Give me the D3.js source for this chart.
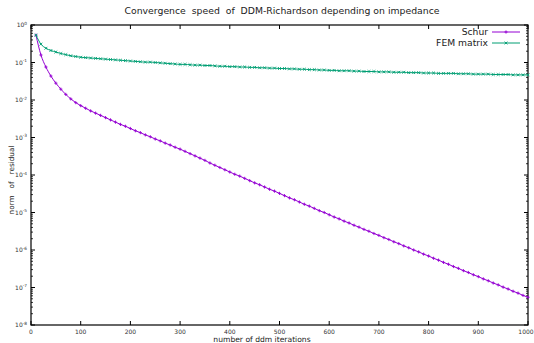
<!DOCTYPE html>
<html>
<head>
<meta charset="utf-8">
<script src="https://cdn.jsdelivr.net/npm/d3@7"></script>
<style>
  body { margin: 0; background: #fff; }
  svg { font-family: "DejaVu Sans", sans-serif; }
</style>
</head>
<body>
<div id="chart"></div>
<script>
// iterations 10, 20, ..., 1000 ; values are log10(residual)
const iterations = d3.range(10, 1001, 10);
const schurLog10 = [
  -0.27, -0.80, -1.12, -1.36, -1.55, -1.71, -1.85, -1.97, -2.07, -2.15,
  -2.22, -2.29, -2.35, -2.41, -2.47, -2.53, -2.59, -2.65, -2.70, -2.76,
  -2.82, -2.87, -2.93, -2.98, -3.04, -3.09, -3.15, -3.20, -3.26, -3.31,
  -3.37, -3.43, -3.49, -3.55, -3.61, -3.68, -3.74, -3.80, -3.86, -3.92,
  -3.98, -4.03, -4.09, -4.15, -4.21, -4.26, -4.32, -4.38, -4.43, -4.49,
  -4.55, -4.61, -4.66, -4.72, -4.78, -4.83, -4.89, -4.95, -5.00, -5.06,
  -5.12, -5.17, -5.23, -5.28, -5.34, -5.39, -5.45, -5.50, -5.56, -5.61,
  -5.67, -5.72, -5.78, -5.83, -5.89, -5.94, -6.00, -6.05, -6.11, -6.16,
  -6.22, -6.27, -6.33, -6.38, -6.44, -6.49, -6.55, -6.60, -6.66, -6.71,
  -6.77, -6.82, -6.88, -6.93, -6.99, -7.04, -7.10, -7.15, -7.21, -7.26
];
const femLog10 = [
  -0.27, -0.51, -0.62, -0.68, -0.72, -0.76, -0.79, -0.82, -0.84, -0.86,
  -0.87, -0.88, -0.89, -0.90, -0.91, -0.92, -0.93, -0.94, -0.95, -0.96,
  -0.97, -0.98, -0.99, -0.99, -1.00, -1.01, -1.02, -1.03, -1.04, -1.05,
  -1.05, -1.06, -1.07, -1.07, -1.08, -1.08, -1.09, -1.10, -1.10, -1.11,
  -1.11, -1.12, -1.12, -1.13, -1.13, -1.14, -1.14, -1.15, -1.15, -1.16,
  -1.16, -1.17, -1.17, -1.18, -1.18, -1.19, -1.19, -1.20, -1.20, -1.21,
  -1.21, -1.22, -1.22, -1.22, -1.23, -1.23, -1.24, -1.24, -1.24, -1.25,
  -1.25, -1.25, -1.26, -1.26, -1.26, -1.27, -1.27, -1.27, -1.28, -1.28,
  -1.28, -1.29, -1.29, -1.29, -1.29, -1.30, -1.30, -1.30, -1.31, -1.31,
  -1.31, -1.31, -1.32, -1.32, -1.32, -1.32, -1.33, -1.33, -1.33, -1.33
];
const xTicks = [0, 100, 200, 300, 400, 500, 600, 700, 800, 900, 1000];
const yExponents = [0, -1, -2, -3, -4, -5, -6, -7, -8];
const seriesNames = ['Schur', 'FEM matrix'];
const seriesColors = ['#9400d3', '#009e73'];

const width = 534, height = 343;
const margin = { top: 25, right: 6, bottom: 18, left: 31 };
const innerW = width - margin.left - margin.right;
const innerH = height - margin.top - margin.bottom;

const svg = d3.select('#chart').append('svg')
  .attr('width', width).attr('height', height);

const g = svg.append('g').attr('transform', `translate(${margin.left},${margin.top})`);

const x = d3.scaleLinear().domain([0, 1000]).range([0, innerW]);
const y = d3.scaleLog().domain([1e-8, 1]).range([innerH, 0]);

// title
svg.append('text')
  .attr('x', 282).attr('y', 14)
  .attr('text-anchor', 'middle')
  .attr('font-size', 9.3)
  .attr('fill', '#222')
  .attr('xml:space', 'preserve')
  .text('Convergence  speed  of  DDM-Richardson depending on impedance');

// x ticks (bottom + mirrored on top), inward
const tickCol = '#000';
xTicks.forEach(t => {
  g.append('line').attr('x1', x(t)).attr('x2', x(t)).attr('y1', innerH).attr('y2', innerH - 4)
    .attr('stroke', tickCol).attr('stroke-width', 1);
  g.append('line').attr('x1', x(t)).attr('x2', x(t)).attr('y1', 0).attr('y2', 4)
    .attr('stroke', tickCol).attr('stroke-width', 1);
  g.append('text').attr('x', t === 1000 ? x(t) - 2 : x(t)).attr('y', innerH + 8.5)
    .attr('text-anchor', 'middle').attr('font-size', 6).attr('fill', '#333')
    .text(t);
});

// y ticks major + minor, left and right
yExponents.forEach(e => {
  const v = Math.pow(10, e);
  [0, innerW].forEach((px, i) => {
    const dir = i === 0 ? 1 : -1;
    g.append('line').attr('x1', px).attr('x2', px + dir * 4).attr('y1', y(v)).attr('y2', y(v))
      .attr('stroke', tickCol).attr('stroke-width', 1);
    if (e > -8) {
      for (let k = 2; k <= 9; k++) {
        g.append('line').attr('x1', px).attr('x2', px + dir * 2)
          .attr('y1', y(v * k / 10)).attr('y2', y(v * k / 10))
          .attr('stroke', tickCol).attr('stroke-width', 0.8);
      }
    }
  });
  const lab = g.append('text').attr('x', -4).attr('y', y(v) + 2)
    .attr('text-anchor', 'end').attr('font-size', 6).attr('fill', '#333');
  lab.append('tspan').text('10');
  lab.append('tspan').attr('dy', -2.5).attr('font-size', 4.3).text(e === 0 ? '0' : '-' + (-e));
});

// frame
g.append('rect').attr('x', 0).attr('y', 0).attr('width', innerW).attr('height', innerH)
  .attr('fill', 'none').attr('stroke', '#000').attr('stroke-width', 1.2);

// axis labels
svg.append('text').attr('x', 262).attr('y', height - 1.5)
  .attr('text-anchor', 'middle').attr('font-size', 7.6).attr('fill', '#222')
  .text('number of ddm iterations');
svg.append('text')
  .attr('transform', `translate(14,${margin.top + innerH / 2 + 5}) rotate(-90)`)
  .attr('text-anchor', 'middle').attr('font-size', 7.3).attr('fill', '#222')
  .attr('xml:space', 'preserve')
  .text('norm   of   residual');

// series
const series = [schurLog10, femLog10].map((vals, i) => ({
  name: seriesNames[i], color: seriesColors[i],
  points: iterations.map((it, j) => ({ it: it, r: Math.pow(10, vals[j]) }))
}));

const line = d3.line().x(d => x(d.it)).y(d => y(d.r)).curve(d3.curveMonotoneX);

function marker(sel, cx, cy, i, color) {
  if (i === 0) {
    sel.append('path').attr('d', `M${cx - 1.6},${cy}H${cx + 1.6}M${cx},${cy - 1.6}V${cy + 1.6}`)
      .attr('stroke', color).attr('stroke-width', 0.9).attr('fill', 'none');
  } else {
    sel.append('path').attr('d', `M${cx - 1.4},${cy - 1.4}L${cx + 1.4},${cy + 1.4}M${cx - 1.4},${cy + 1.4}L${cx + 1.4},${cy - 1.4}`)
      .attr('stroke', color).attr('stroke-width', 0.9).attr('fill', 'none');
  }
}

series.forEach((s, i) => {
  g.append('path').datum(s.points)
    .attr('d', line).attr('fill', 'none')
    .attr('stroke', s.color).attr('stroke-width', 1);
  const mg = g.append('g');
  s.points.forEach(p => marker(mg, x(p.it), y(p.r), i, s.color));
});

// legend
series.forEach((s, i) => {
  const ly = 32 + i * 11;
  svg.append('text').attr('x', 488).attr('y', ly + 3.2)
    .attr('text-anchor', 'end').attr('font-size', 9.2).attr('fill', '#222')
    .text(s.name);
  svg.append('line').attr('x1', 492).attr('x2', 520).attr('y1', ly).attr('y2', ly)
    .attr('stroke', s.color).attr('stroke-width', 1);
  marker(svg, 506, ly, i, s.color);
});
</script>
</body>
</html>
